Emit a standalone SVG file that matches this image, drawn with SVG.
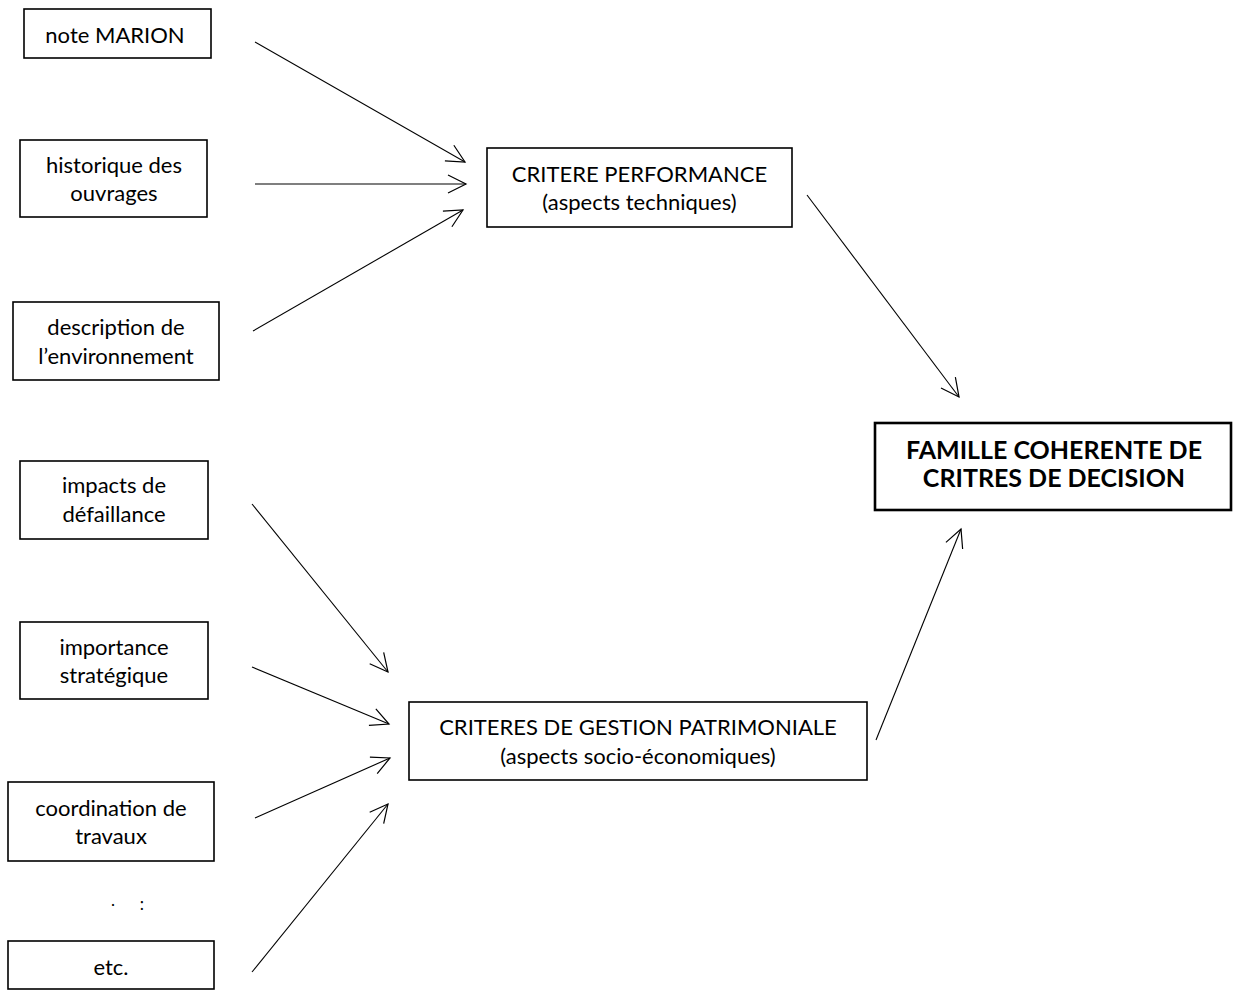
<svg xmlns="http://www.w3.org/2000/svg" width="1241" height="990" viewBox="0 0 1241 990">
<style>
.box{fill:#fff;stroke:#000;stroke-width:1.6}
.boxb{fill:#fff;stroke:#000;stroke-width:2.6}
.t{font-family:Lato,"Open Sans","Liberation Sans",sans-serif;font-size:22px;fill:#000;text-anchor:middle}
.tb{font-family:Lato,"Open Sans","Liberation Sans",sans-serif;font-size:25px;font-weight:bold;fill:#000;text-anchor:middle}
.d{font-family:Lato,"Open Sans","Liberation Sans",sans-serif;font-size:17px;fill:#000;text-anchor:middle}
.c{fill:none;stroke:#000;stroke-width:1.1}
</style>
<defs>
<marker id="arr" markerUnits="userSpaceOnUse" markerWidth="22" markerHeight="22" refX="19" refY="10" orient="auto" viewBox="0 0 22 22">
<path d="M1,1 L19,10 L1,19" fill="none" stroke="#000" stroke-width="1.2"/>
</marker>
</defs>
<g id="connectors">
<line class="c" x1="255" y1="42" x2="465" y2="162" marker-end="url(#arr)"/>
<line class="c" x1="255" y1="184" x2="466" y2="184" marker-end="url(#arr)"/>
<line class="c" x1="253" y1="331" x2="463" y2="210" marker-end="url(#arr)"/>
<line class="c" x1="807" y1="195" x2="959" y2="397" marker-end="url(#arr)"/>
<line class="c" x1="252" y1="504" x2="388" y2="672" marker-end="url(#arr)"/>
<line class="c" x1="252" y1="667" x2="389" y2="724" marker-end="url(#arr)"/>
<line class="c" x1="255" y1="818" x2="390" y2="758" marker-end="url(#arr)"/>
<line class="c" x1="252" y1="972" x2="388" y2="804" marker-end="url(#arr)"/>
<line class="c" x1="876" y1="740" x2="961" y2="529" marker-end="url(#arr)"/>
</g>
<g id="n-marion"><rect class="box" x="24" y="9" width="187" height="49"/><text class="t" x="115" y="43">note MARION</text></g>
<g id="n-historique"><rect class="box" x="20" y="140" width="187" height="77"/><text class="t" x="114" y="173">historique des</text><text class="t" x="114" y="201">ouvrages</text></g>
<g id="n-description"><rect class="box" x="13" y="302" width="206" height="78"/><text class="t" x="116" y="335">description de</text><text class="t" x="116" y="364">l’environnement</text></g>
<g id="n-performance"><rect class="box" x="487" y="148" width="305" height="79"/><text class="t" x="639.5" y="182">CRITERE PERFORMANCE</text><text class="t" x="639.5" y="210">(aspects techniques)</text></g>
<g id="n-famille"><rect class="boxb" x="875" y="423" width="356" height="87"/><text class="tb" x="1054" y="459">FAMILLE COHERENTE DE</text><text class="tb" x="1054" y="487">CRITRES DE DECISION</text></g>
<g id="n-impacts"><rect class="box" x="20" y="461" width="188" height="78"/><text class="t" x="114" y="493">impacts de</text><text class="t" x="114" y="522">défaillance</text></g>
<g id="n-importance"><rect class="box" x="20" y="622" width="188" height="77"/><text class="t" x="114" y="655">importance</text><text class="t" x="114" y="683">stratégique</text></g>
<g id="n-coordination"><rect class="box" x="8" y="782" width="206" height="79"/><text class="t" x="111" y="816">coordination de</text><text class="t" x="111" y="844">travaux</text></g>
<g id="n-dots"><text class="d" x="113" y="906">.</text><text class="d" x="142" y="910">:</text></g>
<g id="n-etc"><rect class="box" x="8" y="941" width="206" height="48"/><text class="t" x="111" y="975">etc.</text></g>
<g id="n-gestion"><rect class="box" x="409" y="702" width="458" height="78"/><text class="t" x="638" y="735">CRITERES DE GESTION PATRIMONIALE</text><text class="t" x="638" y="764">(aspects socio-économiques)</text></g>
</svg>
